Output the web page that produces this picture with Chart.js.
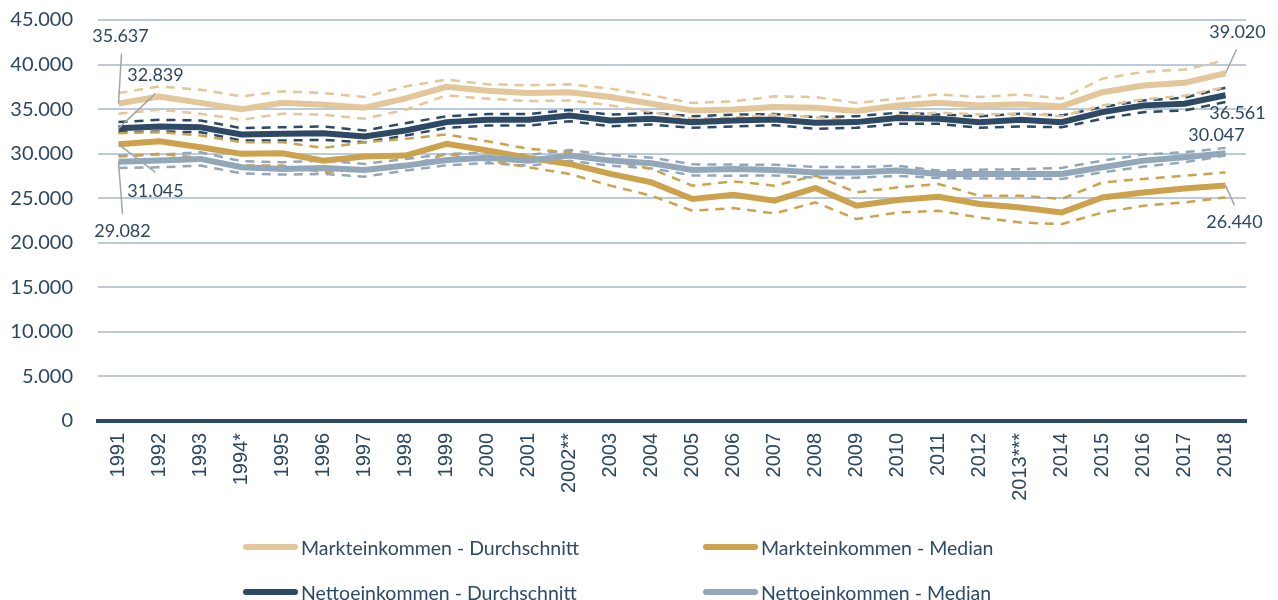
<!DOCTYPE html>
<html lang="de">
<head>
<meta charset="utf-8">
<title>Markt- und Nettoeinkommen 1991-2018</title>
<script src="https://cdn.jsdelivr.net/npm/chart.js@4.4.1/dist/chart.umd.min.js"></script>
<style>
    html, body { margin: 0; padding: 0; background: #ffffff; }
    #wrap { position: relative; width: 1278px; height: 600px; overflow: hidden; }
    #chartBox { position: absolute; left: 0; top: 0; width: 1278px; height: 530px; }
    #legend { position: absolute; left: 0; top: 0; width: 1278px; height: 600px; pointer-events: none; }
    .leg-item { position: absolute; display: flex; align-items: center; height: 24px; }
    .leg-line { width: 55px; height: 6px; border-radius: 3px; margin-right: 3px; }
    .leg-text { font-family: Lato, sans-serif; font-size: 19.5px; color: #2F4A66; white-space: nowrap; }
</style>
</head>
<body>
<div id="wrap">
    <div id="chartBox"><canvas id="incomeChart"></canvas></div>
    <div id="legend"></div>
</div>
<script>
// Jahre (x-Achse)
const years = ['1991', '1992', '1993', '1994*', '1995', '1996', '1997', '1998', '1999', '2000',
    '2001', '2002**', '2003', '2004', '2005', '2006', '2007', '2008', '2009', '2010',
    '2011', '2012', '2013***', '2014', '2015', '2016', '2017', '2018'];

// Markteinkommen - Durchschnitt (mit Konfidenzband)
const maDurchschnitt = [35637, 36400, 35700, 35000, 35700, 35500, 35150, 36200, 37500, 37050,
    36800, 36900, 36350, 35600, 34850, 34950, 35250, 35150, 34800, 35400,
    35700, 35400, 35550, 35300, 36900, 37650, 37950, 39020];
const maDurchschnittOben = [36800, 37550, 37180, 36430, 36990, 36800, 36350, 37550, 38310, 37780,
    37670, 37780, 37300, 36540, 35680, 35880, 36430, 36350, 35680, 36170,
    36650, 36350, 36650, 36170, 38420, 39170, 39440, 40480];
const maDurchschnittUnten = [34480, 34930, 34480, 33800, 34480, 34370, 33920, 34930, 36540, 36170,
    35900, 35980, 35420, 34660, 33920, 34050, 34370, 34100, 33700, 34300,
    34600, 34400, 34500, 34200, 35400, 36100, 36500, 37480];

// Markteinkommen - Median
const maMedian = [31045, 31400, 30720, 29980, 30050, 29220, 29670, 29790, 31100, 30350,
    29530, 28850, 27730, 26780, 24910, 25390, 24720, 26150, 24160, 24800,
    25170, 24350, 23960, 23400, 25090, 25650, 26100, 26440];
const maMedianOben = [32300, 32410, 32040, 31280, 31280, 30650, 31280, 31660, 32150, 31400,
    30540, 30160, 29220, 28290, 26410, 26890, 26410, 27530, 25650, 26220,
    26600, 25280, 25280, 24910, 26780, 27160, 27530, 27900];
const maMedianUnten = [29670, 29980, 29530, 28660, 28660, 27900, 28290, 28470, 29980, 29220,
    28470, 27730, 26410, 25280, 23590, 23900, 23290, 24530, 22660, 23400,
    23590, 22840, 22280, 22090, 23400, 24160, 24530, 25090];

// Nettoeinkommen - Durchschnitt
const neDurchschnitt = [32839, 33050, 32970, 32150, 32230, 32300, 31930, 32600, 33540, 33800,
    33800, 34290, 33730, 33920, 33540, 33730, 33840, 33470, 33540, 33990,
    33920, 33540, 33800, 33540, 34660, 35420, 35600, 36561];
const neDurchschnittOben = [33540, 33800, 33730, 32860, 32970, 33050, 32600, 33420, 34200, 34450,
    34450, 34900, 34380, 34570, 34200, 34370, 34450, 34100, 34200, 34600,
    34400, 34200, 34480, 34290, 35230, 35980, 36280, 37400];
const neDurchschnittUnten = [32410, 32490, 32410, 31480, 31480, 31550, 31280, 32040, 32900, 33150,
    33150, 33650, 33080, 33270, 32900, 33050, 33200, 32790, 32900, 33350,
    33350, 32900, 33050, 32970, 33920, 34660, 34850, 35790];

// Nettoeinkommen - Median
const neMedian = [29082, 29220, 29410, 28470, 28290, 28400, 28170, 28660, 29300, 29530,
    29220, 29790, 29220, 28920, 28170, 28290, 28170, 27900, 27900, 28100,
    27730, 27730, 27730, 27730, 28470, 29220, 29600, 30047];
const neMedianOben = [29790, 29900, 30160, 29150, 29040, 29220, 28850, 29410, 29950, 30150,
    29850, 30400, 29850, 29550, 28800, 28770, 28750, 28500, 28500, 28650,
    28100, 28200, 28250, 28400, 29220, 29900, 30160, 30650];
const neMedianUnten = [28400, 28470, 28660, 27790, 27650, 27730, 27420, 28100, 28700, 28950,
    28650, 29200, 28650, 28350, 27550, 27530, 27550, 27300, 27300, 27500,
    27270, 27200, 27200, 27160, 27900, 28550, 29030, 29790];

// y-Achse
const yTicks = [0, 5000, 10000, 15000, 20000, 25000, 30000, 35000, 40000, 45000];

const textColor = '#2C4764';
const colMaD = '#E3C699';
const colMaM = '#CCA24D';
const colNeD = '#2D4964';
const colNeM = '#93A7BA';

// 35637 -> "35.637"
const fmt = (v) => String(Math.round(v)).replace(/\B(?=(\d{3})+(?!\d))/g, '.');

const mainLine = (label, data, color, order, labels) => ({
    label: label,
    data: data,
    borderColor: color,
    backgroundColor: color,
    borderWidth: 6,
    pointRadius: 0,
    tension: 0,
    order: order,
    inLegend: true,
    endLabels: labels
});

const bandLine = (data, color) => ({
    label: '',
    data: data,
    borderColor: color,
    borderWidth: 2.5,
    borderDash: [9, 7],
    pointRadius: 0,
    tension: 0,
    order: 10,
    inLegend: false
});

// Werte an Anfang und Ende mit Fuehrungslinien
// dx/dy: Textmitte relativ zum Punkt, lx/ly: Ende der Fuehrungslinie (null = keine)
const endLabelPlugin = {
    id: 'endLabels',
    afterDatasetsDraw(chart) {
        const ctx = chart.ctx;
        ctx.save();
        ctx.font = '18px Lato, sans-serif';
        ctx.fillStyle = textColor;
        ctx.textAlign = 'center';
        ctx.textBaseline = 'middle';
        chart.data.datasets.forEach((ds, i) => {
            if (!ds.endLabels) return;
            const meta = chart.getDatasetMeta(i);
            ds.endLabels.forEach((l) => {
                const pt = meta.data[l.index];
                if (!pt) return;
                if (l.lx !== null) {
                    ctx.strokeStyle = '#A5A5A5';
                    ctx.lineWidth = 1.5;
                    ctx.beginPath();
                    ctx.moveTo(pt.x, pt.y);
                    ctx.lineTo(pt.x + l.lx, pt.y + l.ly);
                    ctx.stroke();
                }
                ctx.fillText(fmt(ds.data[l.index]), pt.x + l.dx, pt.y + l.dy);
            });
        });
        ctx.restore();
    }
};

const last = years.length - 1;

const chart = new Chart(document.getElementById('incomeChart'), {
    type: 'line',
    data: {
        labels: years,
        datasets: [
            mainLine('Markteinkommen - Durchschnitt', maDurchschnitt, colMaD, 4, [
                { index: 0, dx: 2, dy: -67, lx: 3, ly: -50 },
                { index: last, dx: 12, dy: -41, lx: 11, ly: -24 }
            ]),
            mainLine('Markteinkommen - Median', maMedian, colMaM, 3, [
                { index: 0, dx: 37, dy: 47, lx: 37, ly: 28 },
                { index: last, dx: 9, dy: 37, lx: 9, ly: 20 }
            ]),
            mainLine('Nettoeinkommen - Durchschnitt', neDurchschnitt, colNeD, 2, [
                { index: 0, dx: 37, dy: -53, lx: 37, ly: -35 },
                { index: last, dx: 12, dy: 18, lx: null, ly: null }
            ]),
            mainLine('Nettoeinkommen - Median', neMedian, colNeM, 1, [
                { index: 0, dx: 4, dy: 69, lx: 4, ly: 52 },
                { index: last, dx: -9, dy: -18, lx: null, ly: null }
            ]),
            bandLine(maDurchschnittOben, colMaD),
            bandLine(maDurchschnittUnten, colMaD),
            bandLine(maMedianOben, colMaM),
            bandLine(maMedianUnten, colMaM),
            bandLine(neDurchschnittOben, colNeD),
            bandLine(neDurchschnittUnten, colNeD),
            bandLine(neMedianOben, colNeM),
            bandLine(neMedianUnten, colNeM)
        ]
    },
    options: {
        responsive: true,
        maintainAspectRatio: false,
        animation: false,
        layout: {
            padding: { left: 8, right: 32, top: 20, bottom: 0 }
        },
        plugins: {
            legend: { display: false },
            tooltip: { enabled: false }
        },
        scales: {
            x: {
                offset: true,
                grid: { display: false, drawTicks: false },
                border: { display: true, color: colNeD, width: 4 },
                ticks: {
                    color: textColor,
                    font: { family: '"Liberation Sans", Arial, sans-serif', size: 20 },
                    maxRotation: 90,
                    minRotation: 90,
                    autoSkip: false,
                    padding: 12
                },
                afterFit: (axis) => { axis.height = 109; }
            },
            y: {
                min: yTicks[0],
                max: yTicks[yTicks.length - 1],
                afterBuildTicks: (axis) => {
                    axis.ticks = yTicks.map((v) => ({ value: v }));
                },
                afterFit: (axis) => {
                    axis.width = 90;
                    axis.paddingTop = 0;
                    axis.paddingBottom = 0;
                },
                grid: {
                    drawTicks: false,
                    lineWidth: 2,
                    color: (c) => (c.tick && c.tick.value === 0 ? 'rgba(0,0,0,0)' : '#BACBDB')
                },
                border: { display: false },
                ticks: {
                    color: textColor,
                    font: { family: 'Lato, sans-serif', size: 20 },
                    padding: 25,
                    callback: (v) => fmt(v)
                }
            }
        }
    },
    plugins: [endLabelPlugin]
});

// Legende als HTML, 2 x 2 angeordnet
const legendPos = [
    { left: 243, top: 535 },
    { left: 703, top: 535 },
    { left: 243, top: 580 },
    { left: 703, top: 580 }
];
const legendBox = document.getElementById('legend');
chart.data.datasets.filter((ds) => ds.inLegend).forEach((ds, i) => {
    const item = document.createElement('div');
    item.className = 'leg-item';
    item.style.left = legendPos[i].left + 'px';
    item.style.top = legendPos[i].top + 'px';
    const line = document.createElement('span');
    line.className = 'leg-line';
    line.style.background = ds.borderColor;
    const text = document.createElement('span');
    text.className = 'leg-text';
    text.textContent = ds.label;
    item.appendChild(line);
    item.appendChild(text);
    legendBox.appendChild(item);
});
</script>
</body>
</html>
